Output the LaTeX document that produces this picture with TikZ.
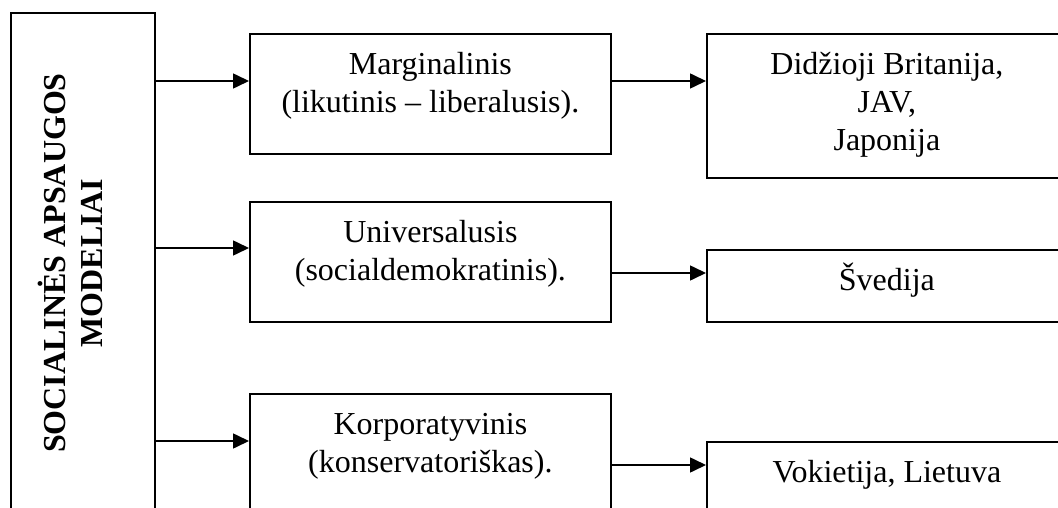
\documentclass[tikz,border=0pt]{standalone}
\usepackage{fontspec}
\setmainfont{Liberation Serif}
\usetikzlibrary{arrows.meta}
\begin{document}
\begin{tikzpicture}[x=1pt,y=-1pt,
  box/.style={draw, line width=1.8pt, inner sep=0pt, anchor=north west},
  txt/.style={anchor=north, align=center, inner sep=0pt, yshift=-11pt,
    font=\fontsize{32}{38}\selectfont},
  arr/.style={line width=1.6pt, -{Triangle[length=16pt,width=15pt]}},
]
\useasboundingbox (0,0) rectangle (1058,508);
% left box
\node[box, minimum width=144pt, minimum height=540pt] (L) at (10,12) {};
\node[font=\bfseries\fontsize{32}{37}\selectfont, rotate=90, align=center, inner sep=0pt]
  (Lt) at (70,263) {SOCIALINĖS APSAUGOS\\MODELIAI};
% middle boxes
\node[box, minimum width=361pt, minimum height=120pt] (m1) at (249,33) {};
\node[box, minimum width=361pt, minimum height=120pt] (m2) at (249,201) {};
\node[box, minimum width=361pt, minimum height=150pt] (m3) at (249,393) {};
\node[txt] (m1t) at (m1.north) {\rule{0pt}{30pt}Marginalinis\\(likutinis – liberalusis).};
\node[txt] (m2t) at (m2.north) {\rule{0pt}{30pt}Universalusis\\(socialdemokratinis).};
\node[txt] (m3t) at (m3.north) {\rule{0pt}{30pt}Korporatyvinis\\(konservatoriškas).};
% right boxes
\node[box, minimum width=360pt, minimum height=144pt] (r1) at (706,33) {};
\node[box, minimum width=360pt, minimum height=72pt] (r2) at (706,249) {};
\node[box, minimum width=360pt, minimum height=100pt] (r3) at (706,441) {};
\node[txt] (r1t) at (r1.north) {\rule{0pt}{30pt}Didžioji Britanija,\\JAV,\\Japonija};
\node[txt] (r2t) at (r2.north) {\rule{0pt}{30pt}Švedija};
\node[txt] (r3t) at (r3.north) {\rule{0pt}{30pt}Vokietija, Lietuva};
% arrow heights
\coordinate (y1) at (0,81);
\coordinate (y2) at (0,248);
\coordinate (y3) at (0,441);
\coordinate (z1) at (0,81);
\coordinate (z2) at (0,273);
\coordinate (z3) at (0,465);
\draw[arr] (L.east |- y1) -- (m1.west |- y1);
\draw[arr] (L.east |- y2) -- (m2.west |- y2);
\draw[arr] (L.east |- y3) -- (m3.west |- y3);
\draw[arr] (m1.east |- z1) -- (r1.west |- z1);
\draw[arr] (m2.east |- z2) -- (r2.west |- z2);
\draw[arr] (m3.east |- z3) -- (r3.west |- z3);
\end{tikzpicture}
\end{document}
